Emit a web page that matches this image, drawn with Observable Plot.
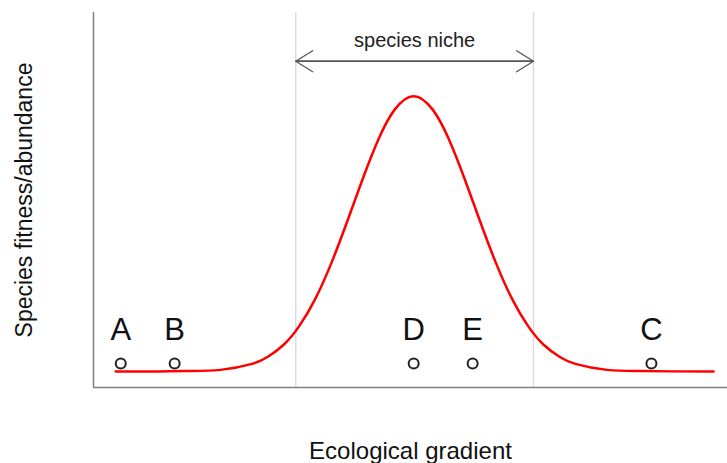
<!DOCTYPE html>
<html>
<head>
<meta charset="utf-8">
<script src="https://cdn.jsdelivr.net/npm/d3@7"></script>
<script src="https://cdn.jsdelivr.net/npm/@observablehq/plot@0.6"></script>
<style>
  html, body { margin: 0; padding: 0; background: #fff; }
  svg { display: block; }
</style>
</head>
<body>
<div id="chart"></div>
<script>
// Curve samples (gradient position, fitness)
const curveX = [0.35, 1.0, 1.5, 2.0, 2.5, 2.75, 3.0, 3.25, 3.5, 3.75, 4.0, 4.25, 4.5, 4.75, 5.05,
                5.35, 5.6, 5.85, 6.1, 6.35, 6.6, 6.85, 7.1, 7.35, 7.6, 8.1, 8.6, 9.1, 9.78];
const curveY = [4.3, 4.3, 4.4, 4.7, 6.3, 8.2, 11.4, 16.5, 23.7, 33.1, 44.2, 55.8, 66.4, 74.1, 77.7,
                74.1, 66.4, 55.8, 44.2, 33.1, 23.7, 16.5, 11.4, 8.2, 6.3, 4.7, 4.4, 4.3, 4.3];

// Species sample points
const pointNames = ["A", "B", "C", "D", "E"];
const pointX = [0.43, 1.28, 8.80, 5.05, 5.98];
const pointY = [6.4, 6.4, 6.4, 6.4, 6.4];
const labelY = [15.2, 15.2, 15.2, 15.2, 15.2];

// Niche boundaries
const nicheBounds = [3.19, 6.94];
const nicheArrowY = 87.0;
const nicheLabel = "species niche";
const nicheLabelY = 92.6;

const xTitle = "Ecological gradient";
const yTitle = "Species fitness/abundance";

const curve = curveX.map((x, i) => ({x, y: curveY[i]}));
const pts = pointNames.map((n, i) => ({name: n, x: pointX[i], y: pointY[i], ly: labelY[i]}));
const arrows = [
  {x1: nicheBounds[0], x2: nicheBounds[1]},
  {x1: nicheBounds[1], x2: nicheBounds[0]}
];
const font = "'Liberation Sans', Arial, sans-serif";

const chart = Plot.plot({
  width: 727,
  height: 463,
  marginLeft: 93,
  marginRight: 0,
  marginTop: 12,
  marginBottom: 76,
  style: {fontFamily: font, background: "#fff"},
  x: {domain: [0, 10], axis: null},
  y: {domain: [0, 100], axis: null},
  marks: [
    Plot.ruleX(nicheBounds, {y1: 0, y2: 100, stroke: "#dcdcdc", strokeWidth: 1.5}),
    Plot.ruleX([0], {y1: 0, y2: 100, stroke: "#808080", strokeWidth: 1.5}),
    Plot.ruleY([0], {x1: 0, x2: 10, stroke: "#808080", strokeWidth: 1.5}),
    Plot.arrow(arrows, {x1: "x1", x2: "x2", y1: nicheArrowY, y2: nicheArrowY,
      stroke: "#555", strokeWidth: 1.3, headLength: 23, headAngle: 64}),
    Plot.text([nicheLabel], {x: (nicheBounds[0] + nicheBounds[1]) / 2, y: nicheLabelY,
      text: d => d, fontSize: 20, fill: "#222"}),
    Plot.line(curve, {x: "x", y: "y", stroke: "#ff0000", strokeWidth: 2.5, curve: "natural"}),
    Plot.dot(pts, {x: "x", y: "y", r: 5, stroke: "#222", strokeWidth: 2, fill: "#fff"}),
    Plot.text(pts, {x: "x", y: "ly", text: "name", fontSize: 31, fill: "#111"}),
    Plot.text([xTitle], {frameAnchor: "bottom", lineAnchor: "middle", dy: 64,
      text: d => d, fontSize: 24, fill: "#111"}),
    Plot.text([yTitle], {frameAnchor: "left", textAnchor: "middle", dx: -69, rotate: -90,
      text: d => d, fontSize: 23, fill: "#111"})
  ]
});
document.getElementById("chart").appendChild(chart);
</script>
</body>
</html>
